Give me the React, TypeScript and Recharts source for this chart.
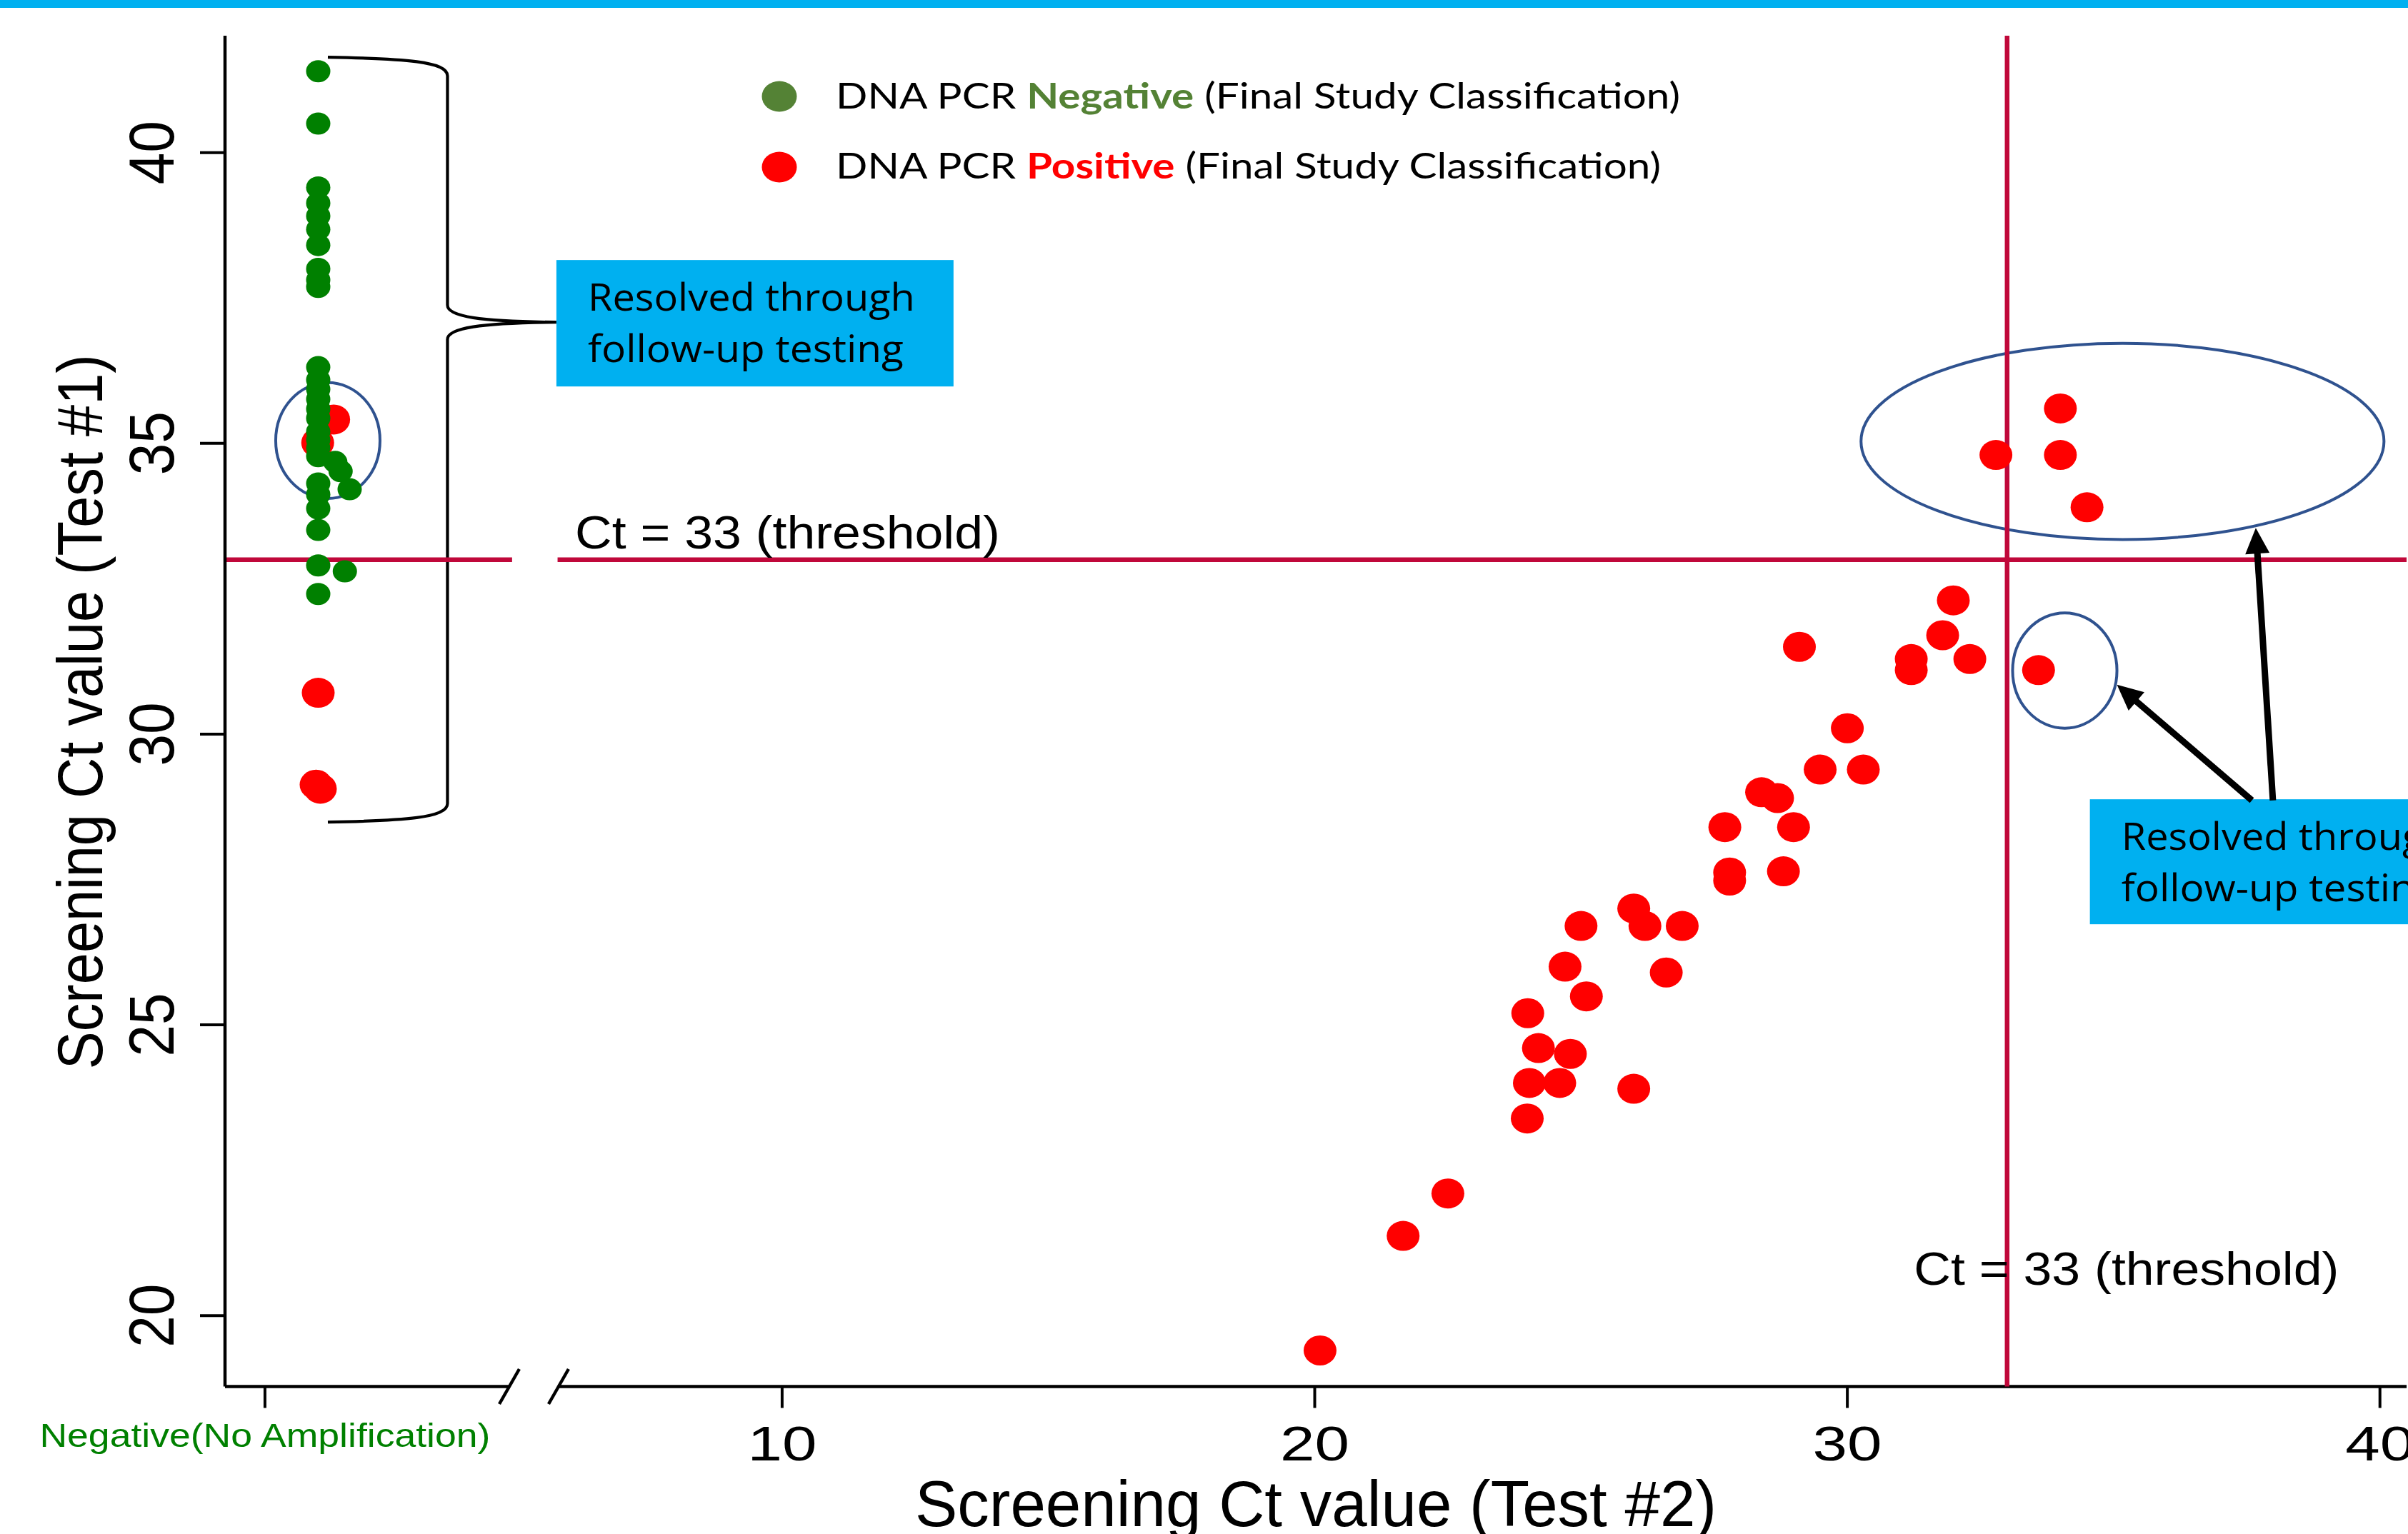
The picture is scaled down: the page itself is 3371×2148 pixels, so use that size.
import React from 'react';
import {
  ScatterChart,
  Scatter,
  XAxis,
  YAxis,
  ReferenceLine,
  ReferenceArea,
  ReferenceDot,
  Legend,
} from 'recharts';

type Pt = { x: number; y: number };

// ---------- axes / labels ----------
const X_DOMAIN: [number, number] = [-0.46, 40.5];
const Y_DOMAIN: [number, number] = [18.78, 42.01];
const NO_AMP_TICK = 0.29;
const X_TICKS = [NO_AMP_TICK, 10, 20, 30, 40];
const Y_TICKS = [20, 25, 30, 35, 40];
const NO_AMP_LABEL = 'Negative(No Amplification)';
const X_TITLE = 'Screening Ct value (Test #2)';
const Y_TITLE = 'Screening Ct value (Test #1)';
const THRESHOLD = 33;
const THRESHOLD_LABEL = 'Ct = 33 (threshold)';
const CALLOUT_LINES = ['Resolved through', 'follow-up testing'];
const LEGEND_ITEMS = [
  { name: 'Negative', color: '#548235' },
  { name: 'Positive', color: '#FF0000' },
];

// ---------- data ----------
// Test #2 gave no amplification, final classification DNA PCR negative
const noAmpNegative: Pt[] = [
  { x: 1.29, y: 41.4 }, { x: 1.29, y: 40.5 }, { x: 1.29, y: 39.4 }, { x: 1.29, y: 39.13 },
  { x: 1.29, y: 38.91 }, { x: 1.29, y: 38.68 }, { x: 1.29, y: 38.41 }, { x: 1.29, y: 38.0 },
  { x: 1.29, y: 37.81 }, { x: 1.29, y: 37.69 }, { x: 1.29, y: 36.31 }, { x: 1.29, y: 36.09 },
  { x: 1.29, y: 35.93 }, { x: 1.29, y: 35.76 }, { x: 1.29, y: 35.59 }, { x: 1.29, y: 35.43 },
  { x: 1.29, y: 35.2 }, { x: 1.29, y: 35.06 }, { x: 1.29, y: 34.92 }, { x: 1.29, y: 34.78 },
  { x: 1.29, y: 34.31 }, { x: 1.29, y: 34.12 }, { x: 1.29, y: 33.88 }, { x: 1.29, y: 33.51 },
  { x: 1.29, y: 32.9 }, { x: 1.29, y: 32.41 },
  { x: 1.61, y: 34.68 }, { x: 1.71, y: 34.52 }, { x: 1.88, y: 34.21 }, { x: 1.79, y: 32.8 },
];

// Test #2 gave no amplification, final classification DNA PCR positive
const noAmpPositive: Pt[] = [
  { x: 1.58, y: 35.41 }, { x: 1.28, y: 35.01 }, { x: 1.29, y: 30.71 },
  { x: 1.25, y: 29.13 }, { x: 1.33, y: 29.06 },
];

// Both screening tests amplified, final classification DNA PCR positive
const bothPositive: Pt[] = [
  { x: 20.1, y: 19.4 }, { x: 21.66, y: 21.37 }, { x: 22.5, y: 22.1 }, { x: 23.99, y: 23.39 },
  { x: 24.03, y: 24.0 }, { x: 24.6, y: 24.0 }, { x: 24.2, y: 24.6 }, { x: 24.8, y: 24.5 },
  { x: 24.0, y: 25.2 }, { x: 25.99, y: 23.9 }, { x: 25.1, y: 25.49 }, { x: 24.7, y: 26.0 },
  { x: 26.6, y: 25.9 }, { x: 25.0, y: 26.7 }, { x: 25.99, y: 27.0 }, { x: 26.2, y: 26.7 },
  { x: 26.9, y: 26.7 }, { x: 27.79, y: 27.62 }, { x: 27.79, y: 27.48 }, { x: 28.8, y: 27.64 },
  { x: 27.7, y: 28.4 }, { x: 28.99, y: 28.4 }, { x: 28.39, y: 29.0 }, { x: 28.69, y: 28.9 },
  { x: 29.49, y: 29.39 }, { x: 30.3, y: 29.39 }, { x: 30.0, y: 30.1 }, { x: 29.1, y: 31.5 },
  { x: 31.2, y: 31.29 }, { x: 31.2, y: 31.1 }, { x: 31.79, y: 31.7 }, { x: 31.99, y: 32.3 },
  { x: 32.3, y: 31.29 }, { x: 33.59, y: 31.1 },
  { x: 32.79, y: 34.8 }, { x: 34.0, y: 35.6 }, { x: 34.0, y: 34.8 }, { x: 34.5, y: 33.9 },
];

// ---------- annotations (data space) ----------
const BRACE = { x1: 1.471, x2: 5.762, y1: 28.486, y2: 41.64, stemX: 3.717, tipY: 37.083 };
const CALLOUT_LEFT = { x1: 5.762, x2: 13.218, y1: 35.978, y2: 38.152 };
const CALLOUT_RIGHT = { x1: 34.554, x2: 42.0, y1: 26.73, y2: 28.879 };
const RING_NOAMP = { x1: 0.492, x2: 2.45, y1: 34.052, y2: 36.044 };
const RING_UPPER = { x1: 30.257, x2: 40.076, y1: 33.347, y2: 36.721 };
const RING_LOWER = { x1: 33.103, x2: 35.062, y1: 30.101, y2: 32.085 };
const ARROW_TO_LOWER: [Pt, Pt] = [{ x: 37.596, y: 28.86 }, { x: 35.062, y: 30.849 }];
const ARROW_TO_UPPER: [Pt, Pt] = [{ x: 37.99, y: 28.86 }, { x: 37.669, y: 33.546 }];
const THRESHOLD_LABEL_ANCHORS: Pt[] = [{ x: 6.111, y: 33.19 }, { x: 31.25, y: 20.528 }];
const X_AXIS_SEGMENTS: [Pt, Pt][] = [
  [{ x: -0.46, y: 18.78 }, { x: 4.864, y: 18.78 }],
  [{ x: 5.816, y: 18.78 }, { x: 40.5, y: 18.78 }],
];
const BREAK_MARKS: [Pt, Pt][] = [
  [{ x: 4.69, y: 18.479 }, { x: 5.065, y: 19.081 }],
  [{ x: 5.615, y: 18.479 }, { x: 5.99, y: 19.081 }],
];
const THRESHOLD_H_SEGMENTS: [Pt, Pt][] = [
  [{ x: -0.46, y: THRESHOLD }, { x: 4.93, y: THRESHOLD }],
  [{ x: 5.784, y: THRESHOLD }, { x: 40.5, y: THRESHOLD }],
];

// ---------- styles ----------
const W = 3371;
const H = 2148;
const ARIAL = "'Liberation Sans', Arial, Helvetica, sans-serif";
const CYAN = '#00B0F0';
const CRIMSON = '#C0083A';
const RING = '#2F528F';

const redDot = (p: any) => <ellipse cx={p.cx} cy={p.cy} rx={23} ry={21} fill="#FF0000" />;
const greenDot = (p: any) => <ellipse cx={p.cx} cy={p.cy} rx={17} ry={15.5} fill="#008000" />;

const XTick = (p: any) => {
  const { x, y, payload } = p;
  if (payload.value === NO_AMP_TICK) {
    return (
      <text x={x} y={y + 54.5} textAnchor="middle" fontFamily={ARIAL} fontSize={47} fill="#008000"
        textLength={631} lengthAdjust="spacingAndGlyphs">{NO_AMP_LABEL}</text>
    );
  }
  return (
    <text x={x} y={y + 73.5} textAnchor="middle" fontFamily={ARIAL} fontSize={68} fill="#000"
      textLength={97} lengthAdjust="spacingAndGlyphs">{payload.value}</text>
  );
};

const YTick = (p: any) => {
  const { x, y, payload } = p;
  const bx = x - 37;
  return (
    <text x={bx} y={y} transform={`rotate(-90 ${bx} ${y})`} textAnchor="middle" fontFamily={ARIAL}
      fontSize={89} fill="#000" textLength={89} lengthAdjust="spacingAndGlyphs">{payload.value}</text>
  );
};

const XTitle = (p: any) => {
  const vb = p.viewBox || { x: 315, y: 1941.5, width: 3054, height: 200 };
  const cx = vb.x + vb.width / 2;
  const by = vb.y + 195.5;
  return (
    <text x={cx} y={by} textAnchor="middle" fontFamily={ARIAL} fontSize={91} fill="#000"
      textLength={1122} lengthAdjust="spacingAndGlyphs">{X_TITLE}</text>
  );
};

const YTitle = (p: any) => {
  const vb = p.viewBox || { x: 100, y: 50, width: 215, height: 1891.5 };
  const bx = vb.x + 43;
  const cy = vb.y + vb.height / 2 + 1;
  return (
    <text x={bx} y={cy} transform={`rotate(-90 ${bx} ${cy})`} textAnchor="middle" fontFamily={ARIAL}
      fontSize={89} fill="#000" textLength={1001} lengthAdjust="spacingAndGlyphs">{Y_TITLE}</text>
  );
};

const ringShape = (p: any) => (
  <ellipse cx={p.x + p.width / 2} cy={p.y + p.height / 2} rx={Math.abs(p.width) / 2}
    ry={Math.abs(p.height) / 2} fill="none" stroke={RING} strokeWidth={4} />
);

const calloutShape = (p: any) => {
  const { x, y, width, height } = p;
  return (
    <g>
      <rect x={x} y={y} width={width} height={height} fill={CYAN} />
      <text x={x + 44} y={y + 71} fontFamily="'Open Sans', sans-serif" fontSize={53.5} fill="#000"
        textLength={458} lengthAdjust="spacingAndGlyphs">{CALLOUT_LINES[0]}</text>
      <text x={x + 44} y={y + 143} fontFamily="'Open Sans', sans-serif" fontSize={53.5} fill="#000"
        textLength={442} lengthAdjust="spacingAndGlyphs">{CALLOUT_LINES[1]}</text>
    </g>
  );
};

const braceShape = (p: any) => {
  const { x, y, width, height } = p;
  const x0 = x;
  const x1 = x + width;
  const xm = x + (width * (BRACE.stemX - BRACE.x1)) / (BRACE.x2 - BRACE.x1);
  const y0 = y;
  const y1 = y + height;
  const ym = y + (height * (BRACE.y2 - BRACE.tipY)) / (BRACE.y2 - BRACE.y1);
  const d = [
    `M ${x0} ${y0}`,
    `C ${x0 + (xm - x0) * 0.65} ${y0 + 2} ${xm} ${y0 + 6} ${xm} ${y0 + 26}`,
    `L ${xm} ${ym - 24}`,
    `C ${xm} ${ym - 8} ${xm + 45} ${ym - 1} ${x1} ${ym}`,
    `C ${xm + 45} ${ym + 1} ${xm} ${ym + 8} ${xm} ${ym + 24}`,
    `L ${xm} ${y1 - 26}`,
    `C ${xm} ${y1 - 6} ${x0 + (xm - x0) * 0.65} ${y1 - 2} ${x0} ${y1}`,
  ].join(' ');
  return <path d={d} fill="none" stroke="#000" strokeWidth={4.2} />;
};

const arrowShape = (p: any) => {
  const x1 = Number(p.x1), y1 = Number(p.y1), x2 = Number(p.x2), y2 = Number(p.y2);
  const dx = x2 - x1;
  const dy = y2 - y1;
  const len = Math.hypot(dx, dy) || 1;
  const ux = dx / len;
  const uy = dy / len;
  const hl = 36;
  const hw = 17;
  const bx = x2 - ux * hl;
  const by = y2 - uy * hl;
  const px = -uy;
  const py = ux;
  return (
    <g>
      <line x1={x1} y1={y1} x2={bx + ux * 4} y2={by + uy * 4} stroke="#000" strokeWidth={9} />
      <polygon points={`${x2},${y2} ${bx + px * hw},${by + py * hw} ${bx - px * hw},${by - py * hw}`} fill="#000" />
    </g>
  );
};

const thresholdText = (p: any) => (
  <text x={p.cx} y={p.cy} fontFamily={ARIAL} fontSize={64} fill="#000" textLength={595}
    lengthAdjust="spacingAndGlyphs">{THRESHOLD_LABEL}</text>
);

const crimsonLine = (p: any) => (
  <line x1={p.x1} y1={p.y1} x2={p.x2} y2={p.y2} stroke={CRIMSON} strokeWidth={6.5} />
);

const blackLine = (p: any) => (
  <line x1={p.x1} y1={p.y1} x2={p.x2} y2={p.y2} stroke="#000" strokeWidth={4.5} />
);

const renderLegend = (props: any) => {
  const payload: any[] = props && props.payload ? props.payload : [];
  const names = LEGEND_ITEMS.filter(
    (it) => payload.length === 0 || payload.some((e: any) => e.value === it.name),
  );
  const rows = names.length ? names : LEGEND_ITEMS;
  const widths: Record<string, number> = { Negative: 1182, Positive: 1155 };
  return (
    <svg width={1400} height={200}>
      {rows.map((it, i) => (
        <g key={it.name}>
          <ellipse cx={51} cy={45 + i * 99} rx={24.5} ry={21.5} fill={it.color} />
          <text x={130} y={61.7 + i * 98.3} fontFamily="Lato, 'Open Sans', sans-serif" fontSize={50}
            fill="#000" textLength={widths[it.name]} lengthAdjust="spacingAndGlyphs"
            style={{ whiteSpace: 'pre' }}>
            <tspan>DNA PCR </tspan>
            <tspan fill={it.color} fontWeight={700}>{it.name}</tspan>
            <tspan> (Final Study Classification)</tspan>
          </text>
        </g>
      ))}
    </svg>
  );
};

export default function App() {
  return (
    <div style={{ position: 'absolute', left: 0, top: 0, width: W, height: H, overflow: 'hidden', background: '#fff' }}>
      <div style={{ position: 'absolute', left: 0, top: 0, width: W, height: 11, background: CYAN, zIndex: 2 }} />
      <ScatterChart width={W} height={H} margin={{ top: 50, right: 2, bottom: 6.5, left: 100 }}>
        <XAxis
          type="number"
          dataKey="x"
          domain={X_DOMAIN}
          allowDataOverflow
          ticks={X_TICKS}
          interval={0}
          axisLine={false}
          tickLine={{ stroke: '#000', strokeWidth: 4 }}
          tickSize={30}
          tickMargin={0}
          height={200}
          tick={XTick}
          label={{ value: X_TITLE, content: XTitle }}
        />
        <YAxis
          type="number"
          dataKey="y"
          domain={Y_DOMAIN}
          allowDataOverflow
          ticks={Y_TICKS}
          interval={0}
          axisLine={{ stroke: '#000', strokeWidth: 4.5 }}
          tickLine={{ stroke: '#000', strokeWidth: 4 }}
          tickSize={35}
          tickMargin={0}
          width={215}
          tick={YTick}
          label={{ value: Y_TITLE, content: YTitle }}
        />
        <Legend
          layout="vertical"
          align="center"
          verticalAlign="middle"
          wrapperStyle={{ left: 1040, top: 90, width: 1400, height: 200 }}
          content={renderLegend}
        />

        {X_AXIS_SEGMENTS.map((s, i) => (
          <ReferenceLine key={`ax${i}`} segment={s} ifOverflow="visible" shape={blackLine} />
        ))}
        {BREAK_MARKS.map((s, i) => (
          <ReferenceLine key={`br${i}`} segment={s} ifOverflow="visible" shape={blackLine} />
        ))}

        {THRESHOLD_LABEL_ANCHORS.map((a, i) => (
          <ReferenceDot key={`tl${i}`} x={a.x} y={a.y} r={0} ifOverflow="visible" shape={thresholdText} />
        ))}

        {THRESHOLD_H_SEGMENTS.map((s, i) => (
          <ReferenceLine key={`th${i}`} segment={s} ifOverflow="visible" shape={crimsonLine} />
        ))}
        <ReferenceLine x={THRESHOLD} ifOverflow="visible" shape={crimsonLine} />

        <ReferenceArea {...BRACE} ifOverflow="visible" shape={braceShape} />
        <ReferenceArea {...CALLOUT_LEFT} ifOverflow="visible" shape={calloutShape} />
        <ReferenceArea {...CALLOUT_RIGHT} ifOverflow="visible" shape={calloutShape} />

        <Scatter name="Positive (no amplification)" data={noAmpPositive} legendType="none"
          shape={redDot} isAnimationActive={false} />
        <Scatter name="Negative" data={noAmpNegative} fill="#548235" shape={greenDot} isAnimationActive={false} />
        <Scatter name="Positive" data={bothPositive} fill="#FF0000" shape={redDot} isAnimationActive={false} />

        <ReferenceArea {...RING_NOAMP} ifOverflow="visible" shape={ringShape} />
        <ReferenceArea {...RING_UPPER} ifOverflow="visible" shape={ringShape} />
        <ReferenceArea {...RING_LOWER} ifOverflow="visible" shape={ringShape} />

        <ReferenceLine segment={ARROW_TO_LOWER} ifOverflow="visible" shape={arrowShape} />
        <ReferenceLine segment={ARROW_TO_UPPER} ifOverflow="visible" shape={arrowShape} />
      </ScatterChart>
    </div>
  );
}
